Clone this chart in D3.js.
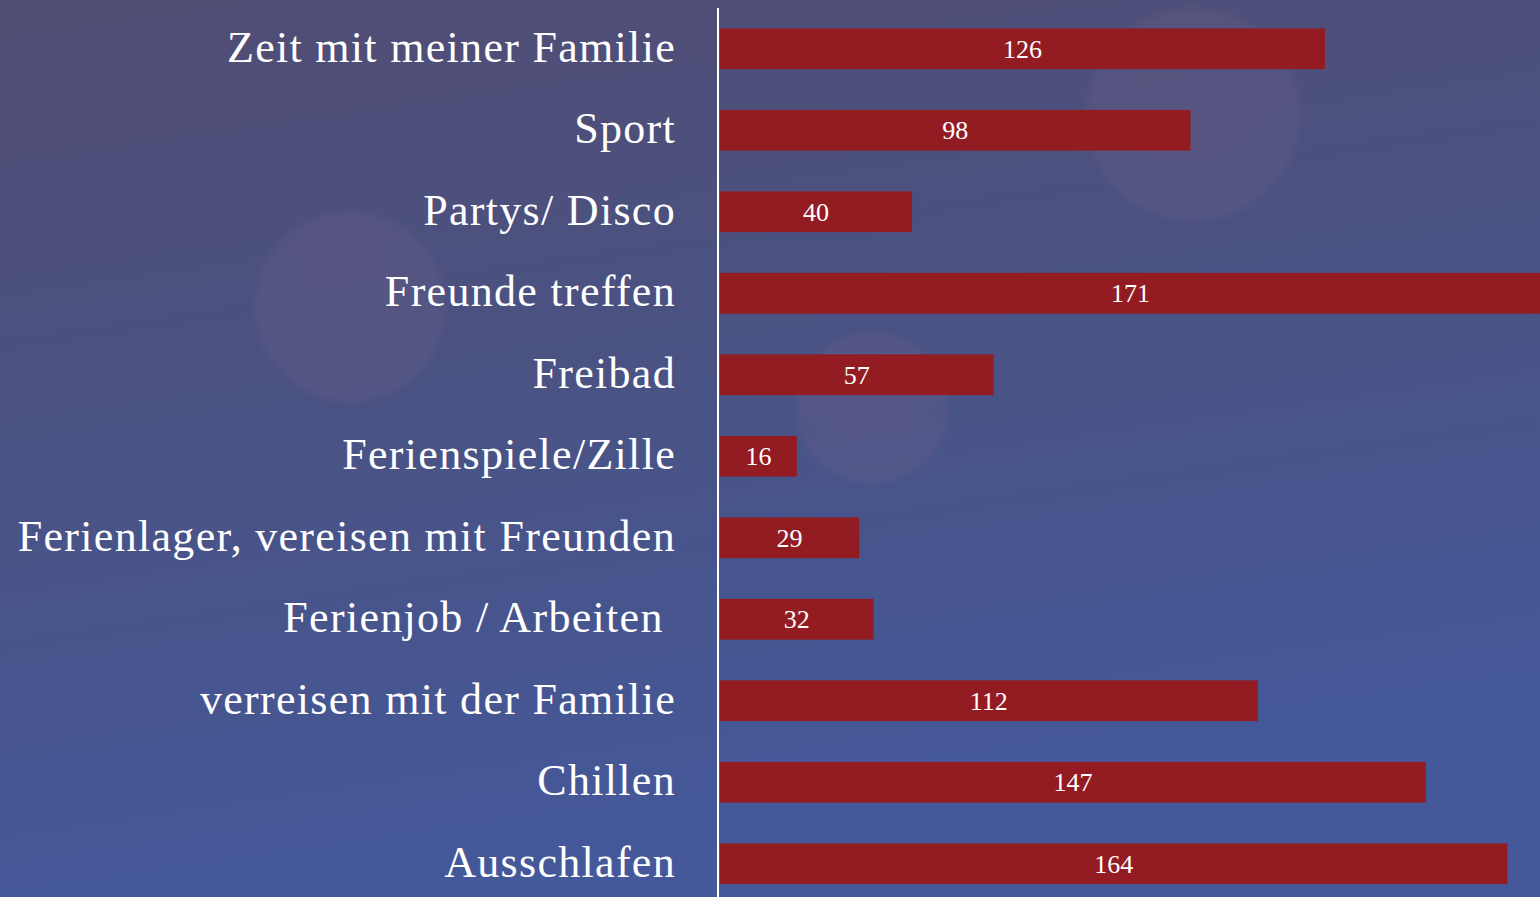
<!DOCTYPE html>
<html>
<head>
<meta charset="utf-8">
<script src="https://cdn.jsdelivr.net/npm/d3@7"></script>
<style>
  html, body { margin: 0; padding: 0; overflow: hidden; }
  svg { display: block; }
  text { font-family: "Liberation Serif", "DejaVu Serif", serif; }
</style>
</head>
<body>
<svg id="chart" width="1540" height="897"></svg>
<script>
// Freizeitaktivitäten in den Ferien (Anzahl Nennungen)
const categories = [
  "Zeit mit meiner Familie",
  "Sport",
  "Partys/ Disco",
  "Freunde treffen",
  "Freibad",
  "Ferienspiele/Zille",
  "Ferienlager, vereisen mit Freunden",
  "Ferienjob / Arbeiten ",
  "verreisen mit der Familie",
  "Chillen",
  "Ausschlafen"
];
const values = [126, 98, 40, 171, 57, 16, 29, 32, 112, 147, 164];

const W = 1540, H = 897;
const svg = d3.select("#chart");

// background: slide-style gradient with soft circles
const defs = svg.append("defs");
const bg = defs.append("linearGradient").attr("id", "bg")
  .attr("x1", "0").attr("y1", "0").attr("x2", "0.25").attr("y2", "1");
bg.append("stop").attr("offset", "0").attr("stop-color", "#514d74");
bg.append("stop").attr("offset", "0.45").attr("stop-color", "#4a5282");
bg.append("stop").attr("offset", "1").attr("stop-color", "#44589a");
svg.append("rect").attr("width", W).attr("height", H).attr("fill", "url(#bg)");

const glow = defs.append("radialGradient").attr("id", "glow");
glow.append("stop").attr("offset", "0").attr("stop-color", "#6a5e88").attr("stop-opacity", 0.34);
glow.append("stop").attr("offset", "0.9").attr("stop-color", "#6a5e88").attr("stop-opacity", 0.3);
glow.append("stop").attr("offset", "1").attr("stop-color", "#6a5e88").attr("stop-opacity", 0);
const circles = [[1193, 115, 112], [350, 307, 100], [872, 408, 80]];
svg.append("g").selectAll("circle").data(circles).join("circle")
  .attr("cx", d => d[0]).attr("cy", d => d[1]).attr("r", d => d[2])
  .attr("fill", "url(#glow)");

const x0 = 720;
const x = d3.scaleLinear().domain([0, 171]).range([x0, 1541]);
const y = d3.scaleBand().domain(categories).range([8, 904.5])
  .paddingInner(0.5).paddingOuter(0.25);

// bars
svg.append("g").selectAll("rect").data(values).join("rect")
  .attr("x", x(0))
  .attr("y", (d, i) => y(categories[i]))
  .attr("width", d => x(d) - x(0))
  .attr("height", y.bandwidth())
  .attr("fill", "#931c22");

// value labels centred in bars
svg.append("g").selectAll("text").data(values).join("text")
  .attr("x", d => (x(0) + x(d)) / 2)
  .attr("y", (d, i) => y(categories[i]) + y.bandwidth() / 2 + 9)
  .attr("text-anchor", "middle")
  .attr("fill", "#ffffff")
  .attr("font-size", 26)
  .text(d => d);

// category axis
const axis = d3.axisLeft(y).tickSize(0).tickPadding(42);
const gAxis = svg.append("g").attr("transform", `translate(${x0 - 2},0)`).call(axis);
gAxis.select(".domain").remove();
gAxis.selectAll("text")
  .attr("fill", "#ffffff")
  .attr("font-size", 44)
  .attr("letter-spacing", 1.3)
  .attr("font-family", "Liberation Serif, DejaVu Serif, serif")
  .attr("dy", "0.29em")
  .style("white-space", "pre");

svg.append("line")
  .attr("x1", x0 - 2).attr("x2", x0 - 2)
  .attr("y1", 8).attr("y2", H)
  .attr("stroke", "#ffffff").attr("stroke-width", 2);
</script>
</body>
</html>
